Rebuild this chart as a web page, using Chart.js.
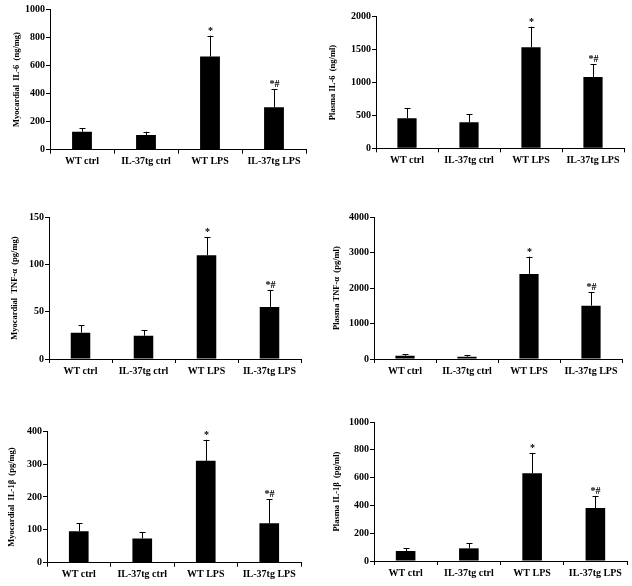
<!DOCTYPE html>
<html>
<head>
<meta charset="utf-8">
<script src="https://cdn.jsdelivr.net/npm/chart.js@4.4.1/dist/chart.umd.min.js"></script>
<style>
body { margin: 0; background: #fff; }
#wrap { position: relative; width: 632px; height: 586px; background: #fff; }
canvas { position: absolute; }
</style>
</head>
<body>
<div id="wrap"></div>
<script>
// groups and values (mean, upper SD)
const groups = ['WT ctrl', 'IL-37tg ctrl', 'WT LPS', 'IL-37tg LPS'];
const marks = ['', '', '*', '*#'];

const myoIL6 = [128, 104, 663, 302];
const myoIL6Err = [26, 24, 149, 128];
const plasmaIL6 = [456, 395, 1534, 1084];
const plasmaIL6Err = [152, 126, 314, 197];
const myoTNF = [27.9, 24.7, 109.8, 55.1];
const myoTNFErr = [7.7, 5.7, 19.4, 18];
const plasmaTNF = [94, 66, 2400, 1506];
const plasmaTNFErr = [38, 38, 489, 376];
const myoIL1b = [96, 74, 310, 120];
const myoIL1bErr = [24, 18, 64, 74];
const plasmaIL1b = [72, 91, 631, 381];
const plasmaIL1bErr = [19, 36, 144, 87];

const yTitles = [
  'Myocardial  IL-6  (ng/mg)', 'Plasma IL-6  (ng/ml)',
  'Myocardial  TNF-\u03b1  (pg/mg)', 'Plasma TNF-\u03b1  (pg/ml)',
  'Myocardial  IL-1\u03b2  (pg/mg)', 'Plasma IL-1\u03b2  (pg/ml)'
];
const yMax = [1000, 2000, 150, 4000, 400, 1000];
const yStep = [200, 500, 50, 1000, 100, 200];

const panels = [
  { means: myoIL6, errs: myoIL6Err },
  { means: plasmaIL6, errs: plasmaIL6Err },
  { means: myoTNF, errs: myoTNFErr },
  { means: plasmaTNF, errs: plasmaTNFErr },
  { means: myoIL1b, errs: myoIL1bErr },
  { means: plasmaIL1b, errs: plasmaIL1bErr }
];

// where each panel sits: cell origin, and plot rect inside the cell
const boxes = [
  { x: 0,   y: 0,   w: 316, h: 195, plot: [50, 9.3, 306, 149.7], tx: 17 },
  { x: 316, y: 0,   w: 316, h: 195, plot: [60, 16.7, 308, 148.3], tx: 17 },
  { x: 0,   y: 195, w: 316, h: 195, plot: [49, 22.3, 301, 164], tx: 15 },
  { x: 316, y: 195, w: 316, h: 195, plot: [58, 22.3, 306, 164], tx: 21 },
  { x: 0,   y: 390, w: 316, h: 196, plot: [47, 41.3, 301, 172.7], tx: 12 },
  { x: 316, y: 390, w: 316, h: 196, plot: [58, 32, 311, 171], tx: 21 }
];

const serif = "'Liberation Serif', 'Times New Roman', serif";

const errBars = {
  id: 'errBars',
  afterDatasetsDraw(chart, args, opts) {
    const ctx = chart.ctx;
    const ys = chart.scales.y;
    const meta = chart.getDatasetMeta(0);
    const vals = chart.data.datasets[0].data;
    ctx.save();
    ctx.strokeStyle = '#000';
    ctx.lineWidth = 1;
    ctx.fillStyle = '#000';
    ctx.font = 'bold 10px ' + serif;
    ctx.textAlign = 'center';
    ctx.textBaseline = 'alphabetic';
    meta.data.forEach((bar, i) => {
      const top = ys.getPixelForValue(vals[i] + opts.errs[i]);
      const x = Math.round(bar.x) + 0.5;
      ctx.beginPath();
      ctx.moveTo(x, bar.y);
      ctx.lineTo(x, top);
      ctx.moveTo(x - 3, Math.round(top) + 0.5);
      ctx.lineTo(x + 3, Math.round(top) + 0.5);
      ctx.stroke();
      if (opts.marks[i]) ctx.fillText(opts.marks[i], x, top - 2);
    });
    ctx.restore();
  }
};

const wrap = document.getElementById('wrap');

panels.forEach((p, k) => {
  const b = boxes[k];
  const cv = document.createElement('canvas');
  cv.width = b.w;
  cv.height = b.h;
  cv.style.left = b.x + 'px';
  cv.style.top = b.y + 'px';
  cv.style.width = b.w + 'px';
  cv.style.height = b.h + 'px';
  wrap.appendChild(cv);

  const [l, t, r, bt] = b.plot;
  new Chart(cv, {
    type: 'bar',
    data: {
      labels: groups,
      datasets: [{
        data: p.means,
        backgroundColor: '#000',
        borderWidth: 0,
        barPercentage: 0.31,
        categoryPercentage: 1
      }]
    },
    options: {
      responsive: false,
      animation: false,
      devicePixelRatio: 1,
      layout: { padding: { left: 0, top: t, right: b.w - r, bottom: 0 } },
      plugins: {
        legend: { display: false },
        tooltip: { enabled: false },
        errBars: { errs: p.errs, marks: marks }
      },
      scales: {
        x: {
          offset: true,
          grid: { offset: true, drawOnChartArea: false, drawTicks: true, tickLength: 4, color: '#000' },
          border: { color: '#000', width: 1 },
          ticks: {
            color: '#000', padding: 2, maxRotation: 0, autoSkip: false,
            font: { family: serif, weight: 'bold', size: 10 }
          },
          afterFit(s) { s.height = b.h - bt; }
        },
        y: {
          min: 0,
          max: yMax[k],
          grid: { drawOnChartArea: false, drawTicks: true, tickLength: 4, color: '#000' },
          border: { color: '#000', width: 1 },
          ticks: {
            stepSize: yStep[k], color: '#000', padding: 1,
            font: { family: serif, weight: 'bold', size: 10 },
            callback: v => String(v)
          },
          title: {
            display: true,
            text: yTitles[k],
            color: '#000',
            font: { family: serif, weight: 'bold', size: 8.5 },
            padding: { top: b.tx - 5.1, bottom: 0 }
          },
          afterFit(s) { s.width = l; }
        }
      }
    },
    plugins: [errBars]
  });
});
</script>
</body>
</html>
